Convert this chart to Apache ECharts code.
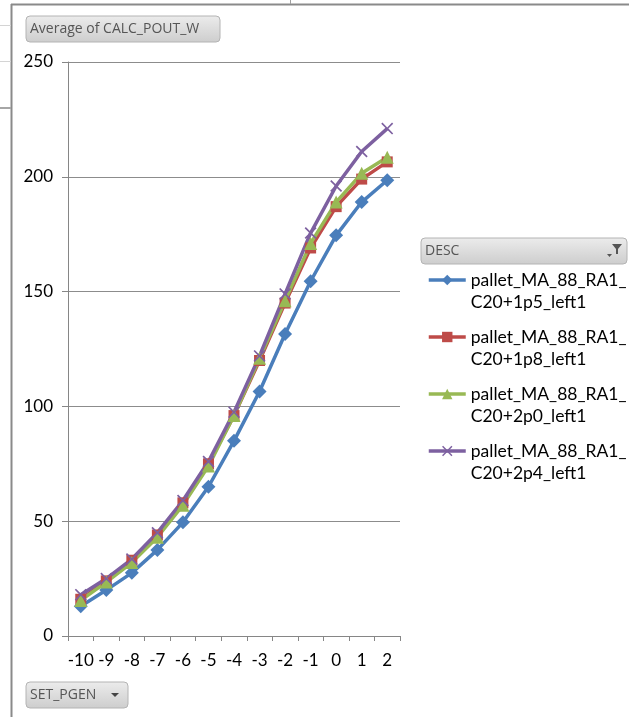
<!DOCTYPE html>
<html>
<head>
<meta charset="utf-8">
<script src="https://cdn.jsdelivr.net/npm/echarts@6/dist/echarts.min.js"></script>
<style>
  html, body { margin: 0; padding: 0; background: #fff; }
  #chart { width: 629px; height: 717px; }
</style>
</head>
<body>
<div id="chart"></div>
<script>
// SET_PGEN categories
var categories = ['-10', '-9', '-8', '-7', '-6', '-5', '-4', '-3', '-2', '-1', '0', '1', '2'];

// Average of CALC_POUT_W per DESC
var names = [
  'pallet_MA_88_RA1_C20+1p5_left1',
  'pallet_MA_88_RA1_C20+1p8_left1',
  'pallet_MA_88_RA1_C20+2p0_left1',
  'pallet_MA_88_RA1_C20+2p4_left1'
];
var pout1p5 = [13, 20, 27.5, 37.5, 49.5, 65, 85, 106.5, 131.5, 154.5, 174.5, 189, 198.5];
var pout1p8 = [16, 24, 33, 44, 58, 75, 96, 120, 145, 169, 187, 199, 206.5];
var pout2p0 = [15.5, 23.5, 32, 43, 57, 74, 96, 121, 146, 171, 189, 201.5, 208.5];
var pout2p4 = [18, 25, 33.5, 45, 59, 76, 97.5, 122, 149, 175.5, 196, 211, 221];

var yTicks = [0, 50, 100, 150, 200, 250];

var colors = ['#4a7ebb', '#be4b48', '#98b954', '#7d60a0'];
var crossPath = 'path://M0,1L1,0L5,4L9,0L10,1L6,5L10,9L9,10L5,6L1,10L0,9L4,5Z';

var chart = echarts.init(document.getElementById('chart'));

function button(x, y, w, h, label, extra) {
  var els = [
    {
      type: 'rect',
      shape: { x: x, y: y, width: w, height: h, r: 4 },
      style: {
        fill: new echarts.graphic.LinearGradient(0, 0, 0, 1, [
          { offset: 0, color: '#ececec' },
          { offset: 1, color: '#cdcdcd' }
        ]),
        stroke: '#b4b4b4',
        lineWidth: 1
      }
    },
    {
      type: 'text',
      x: x + 4,
      y: y + h / 2,
      style: {
        text: label,
        fill: '#555',
        font: '14px "Open Sans"',
        verticalAlign: 'middle'
      }
    }
  ];
  return els.concat(extra || []);
}

function series(i, data, symbol, size) {
  return {
    name: names[i],
    type: 'line',
    data: data,
    symbol: symbol,
    symbolSize: size,
    showSymbol: true,
    lineStyle: { width: 3.5, color: colors[i] },
    itemStyle: { color: colors[i] },
    emphasis: { disabled: true },
    animation: false
  };
}

var option = {
  backgroundColor: '#fff',
  animation: false,
  color: colors,
  grid: { left: 68, right: 229, top: 62, bottom: 81, containLabel: false },
  legend: {
    orient: 'vertical',
    left: 427,
    top: 247,
    padding: 0,
    itemWidth: 37,
    itemHeight: 13,
    itemGap: -9,
    data: names,
    lineStyle: { width: 3.5 },
    formatter: function (n) {
      return '\n' + n.slice(0, 17) + '\n' + n.slice(17);
    },
    textStyle: {
      fontFamily: 'Lato',
      fontSize: 17.5,
      lineHeight: 22,
      color: '#000'
    }
  },
  xAxis: {
    type: 'category',
    data: categories,
    boundaryGap: true,
    axisLine: { lineStyle: { color: '#868686', width: 1 } },
    axisTick: { show: true, length: 5, alignWithLabel: false, lineStyle: { color: '#868686' } },
    axisLabel: {
      color: '#000',
      fontFamily: 'Lato',
      fontSize: 17,
      margin: 16,
      interval: 0
    },
    splitLine: { show: false }
  },
  yAxis: {
    type: 'value',
    min: yTicks[0],
    max: yTicks[yTicks.length - 1],
    interval: 50,
    axisLine: { show: true, lineStyle: { color: '#868686', width: 1 } },
    axisTick: { show: true, length: 6, lineStyle: { color: '#868686' } },
    axisLabel: {
      color: '#000',
      fontFamily: 'Lato',
      fontSize: 17,
      margin: 15
    },
    splitLine: { lineStyle: { color: '#8c8c8c', width: 1 } }
  },
  series: [
    series(0, pout1p5, 'diamond', 14),
    series(1, pout1p8, 'rect', 11),
    series(2, pout2p0, 'triangle', 13),
    series(3, pout2p4, crossPath, 12)
  ],
  graphic: [].concat(
    [
      // window frame
      { type: 'line', shape: { x1: 11.5, y1: 4, x2: 11.5, y2: 717 }, style: { stroke: '#8a8a8a', lineWidth: 2 } },
      { type: 'line', shape: { x1: 11, y1: 4.5, x2: 629, y2: 4.5 }, style: { stroke: '#8a8a8a', lineWidth: 2 } },
      { type: 'line', shape: { x1: 290.5, y1: 0, x2: 290.5, y2: 4 }, style: { stroke: '#a0a0a0', lineWidth: 1 } },
      { type: 'line', shape: { x1: 0, y1: 25.5, x2: 11, y2: 25.5 }, style: { stroke: '#d4d4d4', lineWidth: 1 } },
      { type: 'line', shape: { x1: 0, y1: 61.5, x2: 11, y2: 61.5 }, style: { stroke: '#d4d4d4', lineWidth: 1 } },
      { type: 'line', shape: { x1: 0, y1: 108, x2: 11, y2: 108 }, style: { stroke: '#a6a6a6', lineWidth: 2 } }
    ],
    button(26, 16, 194, 26, 'Average of CALC_POUT_W'),
    button(421, 238, 206, 26, 'DESC', [
      { type: 'polygon', shape: { points: [[612, 244], [622, 244], [618, 249], [618, 254], [616, 254], [616, 249]] }, style: { fill: '#555' } },
      { type: 'polygon', shape: { points: [[607, 254], [612, 254], [609.5, 257]] }, style: { fill: '#555' } }
    ]),
    button(26, 682, 102, 26, 'SET_PGEN', [
      { type: 'polygon', shape: { points: [[111, 693], [119, 693], [115, 697]] }, style: { fill: '#444' } }
    ])
  )
};

chart.setOption(option);
</script>
</body>
</html>
